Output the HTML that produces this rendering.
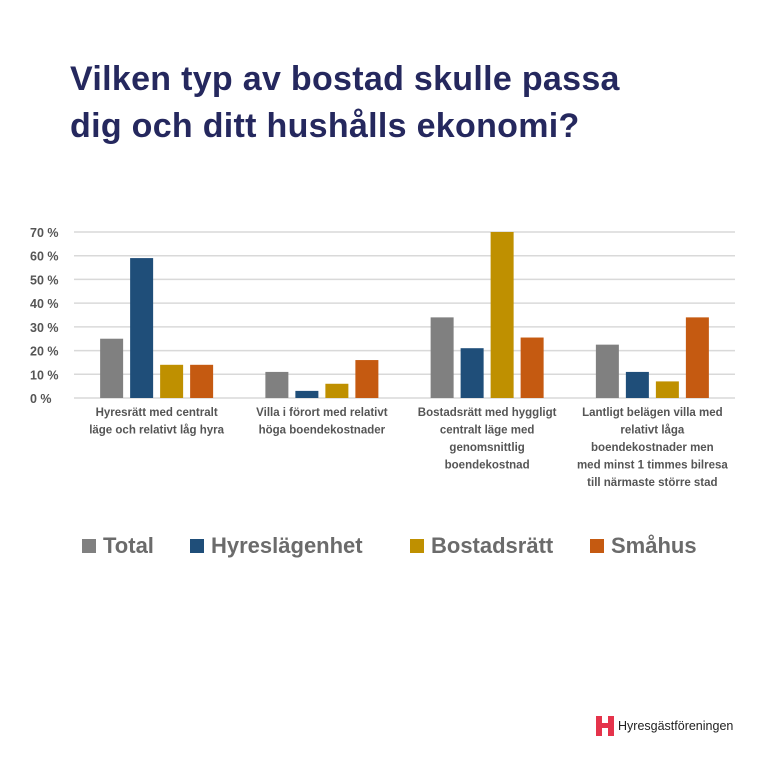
<!DOCTYPE html>
<html><head><meta charset="utf-8"><style>
html,body{margin:0;padding:0;background:#fff;}
body{width:767px;height:767px;position:relative;overflow:hidden;font-family:"Liberation Sans",sans-serif;}
#title{position:absolute;left:70px;top:56px;font-size:34px;font-weight:bold;color:#25285e;line-height:47px;margin:0;letter-spacing:0.3px;}
svg{position:absolute;left:0;top:0;}
.lg{position:absolute;top:533px;font-size:22px;font-weight:bold;color:#6b6b6b;display:flex;align-items:center;}
.lg span.sw{display:inline-block;width:14px;height:14px;margin-right:7px;}
#logo{position:absolute;left:596px;top:716px;display:flex;align-items:center;font-size:12.5px;color:#222;}
</style></head><body>
<h1 id="title">Vilken typ av bostad skulle passa<br>dig och ditt hushålls ekonomi?</h1>
<svg id="chart" width="767" height="767"></svg>
<div class="lg" style="left:82px"><span class="sw" style="background:#808080"></span>Total</div>
<div class="lg" style="left:190px"><span class="sw" style="background:#1f4e79"></span>Hyreslägenhet</div>
<div class="lg" style="left:410px"><span class="sw" style="background:#bf9000"></span>Bostadsrätt</div>
<div class="lg" style="left:590px"><span class="sw" style="background:#c55a11"></span>Småhus</div>
<div id="logo"><svg style="position:static" width="18" height="20"><path d="M0 0h6v7h6V0h6v20h-6v-8H6v8H0z" fill="#e5334b"/></svg><span style="margin-left:4px">Hyresgästföreningen</span></div>
<script>
const categories=[["Hyresrätt med centralt","läge och relativt låg hyra"],["Villa i förort med relativt","höga boendekostnader"],["Bostadsrätt med hyggligt","centralt läge med","genomsnittlig","boendekostnad"],["Lantligt belägen villa med","relativt låga","boendekostnader men","med minst 1 timmes bilresa","till närmaste större stad"]];
const seriesNames=["Total","Hyreslägenhet","Bostadsrätt","Småhus"];
const total=[25,11,34,22.5];
const hyres=[59,3,21,11];
const bostad=[14,6,70,7];
const smahus=[14,16,25.5,34];
const ticks=[0,10,20,30,40,50,60,70];
const colors=["#808080","#1f4e79","#bf9000","#c55a11"];
const series=[total,hyres,bostad,smahus];
const svg=document.getElementById('chart');
const NS="http://www.w3.org/2000/svg";
const x0=74,x1=735,y0=398,yTop=232,maxV=70;
const y=v=>y0-(v/maxV)*(y0-yTop);
const bw=(x1-x0)/categories.length;
const cx=i=>x0+bw*(i+0.5);
function mk(t,a){const e=document.createElementNS(NS,t);for(const k in a)e.setAttribute(k,a[k]);svg.appendChild(e);return e;}
ticks.forEach(t=>{
 const l=mk('line',{x1:x0,x2:x1,y1:y(t),y2:y(t),stroke:'#d9d9d9','stroke-width':1.5});
 
 
 const tx=mk('text',{x:30,y:y(t)+5,'font-size':12.5,'font-weight':'bold',fill:'#555','font-family':'Liberation Sans, sans-serif'});
 tx.textContent=t+' %';
 
 
});
const barW=23,step=30;
categories.forEach((c,i)=>{
 series.forEach((s,j)=>{
  const bx=cx(i)+(j-1.5)*step-barW/2;
  const r=mk('rect',{x:bx,y:y(s[i]),width:barW,height:y0-y(s[i]),fill:colors[j]});
  
  
 });
 c.forEach((line,k)=>{
  const t=mk('text',{x:cx(i),y:416+k*17.5,'text-anchor':'middle','font-size':11.5,'font-weight':'bold',fill:'#555','font-family':'Liberation Sans, sans-serif'});
  t.textContent=line;
  
  
 });
});
</script>
</body></html>
